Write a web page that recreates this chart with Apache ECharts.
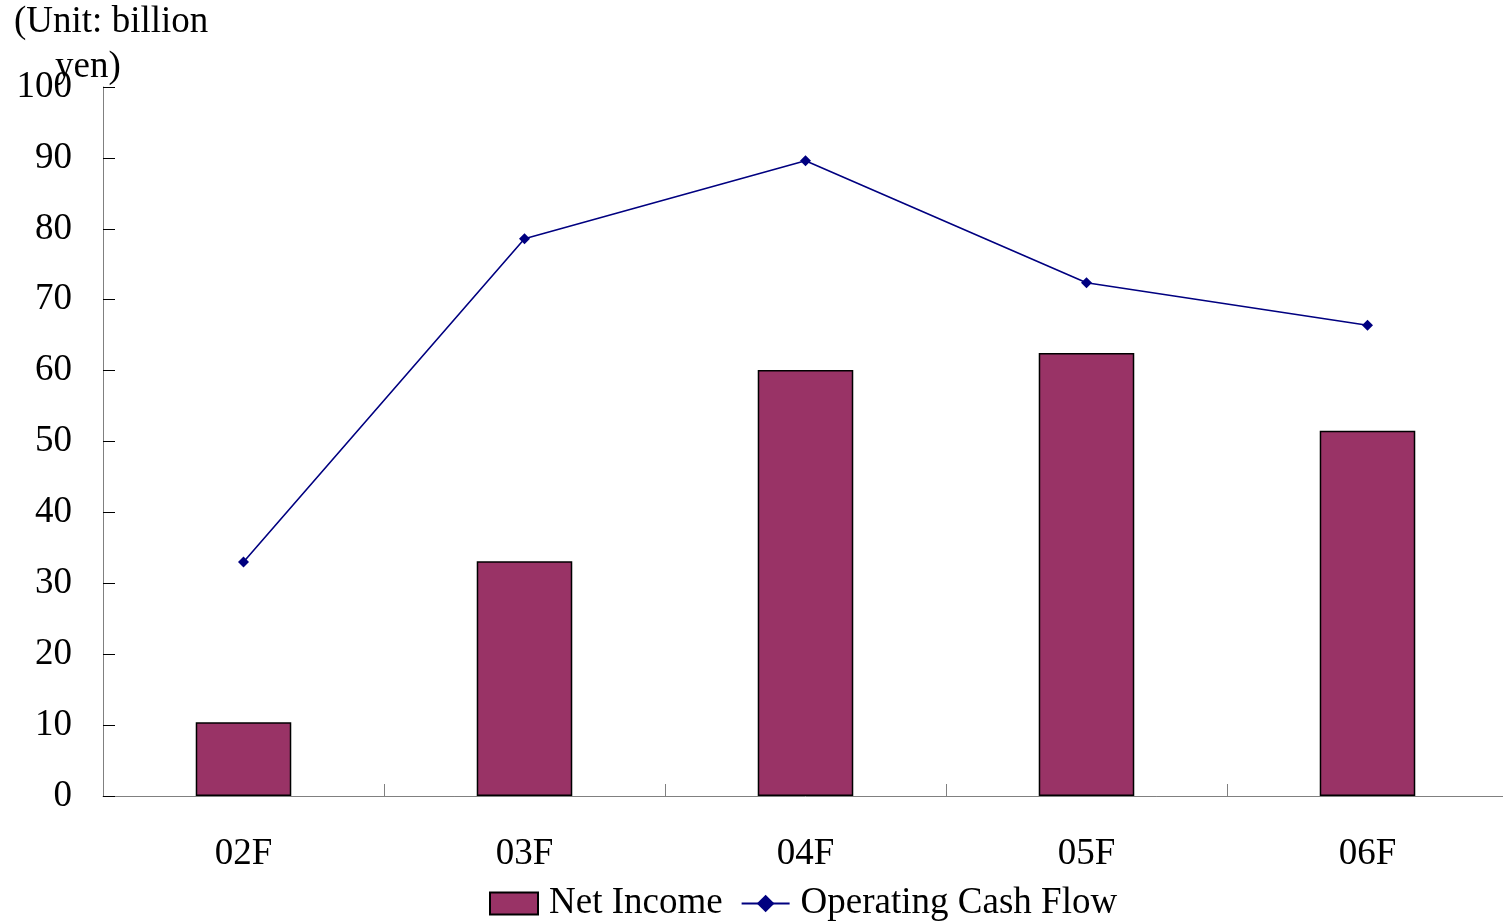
<!DOCTYPE html>
<html>
<head>
<meta charset="utf-8">
<script src="https://cdn.jsdelivr.net/npm/echarts@6/dist/echarts.min.js"></script>
<style>
  html, body { margin: 0; padding: 0; background: #fff; overflow: hidden; }
  /* plot area runs a few pixels past the right edge of the window */
  #chart { width: 1508px; height: 923px; }
</style>
</head>
<body>
<div id="chart"></div>
<script>
// Fiscal years on the category axis
const categories = ['02F', '03F', '04F', '05F', '06F'];
// Values in billion yen
const netIncome = [10.4, 33.1, 60.1, 62.5, 51.5];
const operatingCashFlow = [33.0, 78.6, 89.6, 72.4, 66.4];
// Value-axis ticks
const yTicks = [0, 10, 20, 30, 40, 50, 60, 70, 80, 90, 100];

const font = '"Liberation Serif", "Times New Roman", serif';
const fs = 37;

const chart = echarts.init(document.getElementById('chart'));
chart.setOption({
  backgroundColor: '#ffffff',
  animation: false,
  textStyle: { fontFamily: font, color: '#000' },
  grid: { left: 103, right: 0, top: 87, bottom: 127, containLabel: false },
  graphic: [
    { type: 'text', left: 14, top: 4,
      style: { text: '(Unit: billion', font: fs + 'px ' + font, fill: '#000' } },
    { type: 'text', left: 55, top: 49,
      style: { text: 'yen)', font: fs + 'px ' + font, fill: '#000' } }
  ],
  legend: {
    bottom: 1,
    left: 489,
    padding: 0,
    itemGap: 18,
    itemWidth: 48,
    itemHeight: 22,
    textStyle: { fontFamily: font, fontSize: fs, color: '#000', padding: [0, 0, 0, 6] },
    data: [
      { name: 'Net Income', icon: 'rect' },
      { name: 'Operating Cash Flow' }
    ]
  },
  xAxis: {
    type: 'category',
    data: categories,
    boundaryGap: true,
    axisLine: { lineStyle: { color: '#808080', width: 1 } },
    axisTick: { show: true, inside: true, length: 12, lineStyle: { color: '#808080' } },
    axisLabel: { fontFamily: font, fontSize: fs, color: '#000', margin: 40 },
    splitLine: { show: false }
  },
  yAxis: {
    type: 'value',
    min: 0,
    max: 100,
    interval: 10,
    axisLine: { show: true, lineStyle: { color: '#808080', width: 1 } },
    axisTick: { show: true, inside: true, length: 12, lineStyle: { color: '#000' } },
    axisLabel: {
      fontFamily: font, fontSize: fs, color: '#000', margin: 31,
      formatter: v => (yTicks.includes(v) ? String(v) : '')
    },
    splitLine: { show: false }
  },
  series: [
    {
      name: 'Net Income',
      type: 'bar',
      data: netIncome,
      barWidth: '34%',
      itemStyle: { color: '#993366', borderColor: '#000', borderWidth: 1.5 }
    },
    {
      name: 'Operating Cash Flow',
      type: 'line',
      data: operatingCashFlow,
      symbol: 'diamond',
      symbolSize: 11,
      lineStyle: { color: '#000080', width: 1.6 },
      itemStyle: { color: '#000080' }
    }
  ]
});
</script>
</body>
</html>
